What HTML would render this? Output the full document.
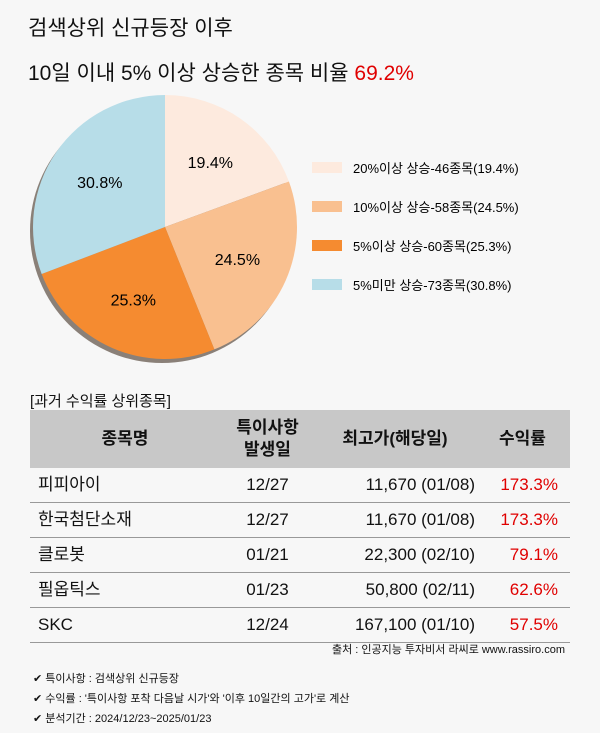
<!DOCTYPE html>
<html><head><meta charset="utf-8"><style>
body{margin:0;background:#f7f7f7;width:600px;height:733px;overflow:hidden;font-family:"Liberation Sans","Noto Sans CJK KR",sans-serif;color:#111;position:relative}
.a{position:absolute;white-space:nowrap}
table{position:absolute;left:30px;top:410px;width:540px;border-collapse:collapse;font-size:17px}
th{background:#c8c8c8;height:58px;padding:0;font-weight:bold;font-size:17px;line-height:22px}
td{height:34px;padding:0;line-height:20px;border-bottom:1px solid #999}
.r{color:#e00000;text-align:right;padding-right:12px}
.foot{font-size:11px}
</style></head><body>
<div class="a" style="left:28px;top:12px;font-size:21px">검색상위 신규등장 이후</div>
<div class="a" style="left:28px;top:57px;font-size:21px">10일 이내 5% 이상 상승한 종목 비율 <span style="color:#e00000">69.2%</span></div>
<svg class="a" style="left:0;top:0" width="600" height="400" id="pie"></svg>
<div class="a" style="left:30px;top:390px;font-size:15px">[과거 수익률 상위종목]</div>
<table>
<tr><th style="width:190px">종목명</th><th style="width:95px">특이사항<br>발생일</th><th style="width:160px">최고가(해당일)</th><th>수익률</th></tr>
<tr><td style="padding-left:8px">피피아이</td><td style="text-align:center">12/27</td><td style="text-align:right">11,670 (01/08)</td><td class="r">173.3%</td></tr>
<tr><td style="padding-left:8px">한국첨단소재</td><td style="text-align:center">12/27</td><td style="text-align:right">11,670 (01/08)</td><td class="r">173.3%</td></tr>
<tr><td style="padding-left:8px">클로봇</td><td style="text-align:center">01/21</td><td style="text-align:right">22,300 (02/10)</td><td class="r">79.1%</td></tr>
<tr><td style="padding-left:8px">필옵틱스</td><td style="text-align:center">01/23</td><td style="text-align:right">50,800 (02/11)</td><td class="r">62.6%</td></tr>
<tr><td style="padding-left:8px">SKC</td><td style="text-align:center">12/24</td><td style="text-align:right">167,100 (01/10)</td><td class="r">57.5%</td></tr>
</table>
<div class="a foot" style="right:35px;top:641px">출처 : 인공지능 투자비서 라씨로 www.rassiro.com</div>
<div class="a foot" style="left:33px;top:670px">✔ 특이사항 : 검색상위 신규등장</div>
<div class="a foot" style="left:33px;top:690px">✔ 수익률 : '특이사항 포착 다음날 시가'와 '이후 10일간의 고가'로 계산</div>
<div class="a foot" style="left:33px;top:710px">✔ 분석기간 : 2024/12/23~2025/01/23</div>
<script>
const labels=["20%이상 상승-46종목(19.4%)","10%이상 상승-58종목(24.5%)","5%이상 상승-60종목(25.3%)","5%미만 상승-73종목(30.8%)"];
const values=[19.4,24.5,25.3,30.8];
const colors=["#fdeade","#f9c090","#f58b30","#b7dde8"];
const svg=document.getElementById('pie');const NS="http://www.w3.org/2000/svg";
const cx=165,cy=227,R=132;
const total=values.reduce((a,b)=>a+b,0);
function pt(a,r){return [cx+r*Math.sin(a),cy-r*Math.cos(a)];}
const sh=document.createElementNS(NS,'circle');
sh.setAttribute('cx',cx-3);sh.setAttribute('cy',cy+4);sh.setAttribute('r',R);sh.setAttribute('fill','#8a8078');


svg.appendChild(sh);
let a0=0;
values.forEach((v,i)=>{
 const a1=a0+v/total*2*Math.PI;
 const p0=pt(a0,R),p1=pt(a1,R);
 const path=document.createElementNS(NS,'path');
 path.setAttribute('d',`M${cx},${cy}L${p0[0]},${p0[1]}A${R},${R} 0 ${a1-a0>Math.PI?1:0} 1 ${p1[0]},${p1[1]}Z`);
 path.setAttribute('fill',colors[i]);
 
 
 svg.appendChild(path);
 const m=(a0+a1)/2,lp=pt(m,R*0.6);
 const t=document.createElementNS(NS,'text');
 t.setAttribute('x',lp[0]);t.setAttribute('y',lp[1]+6);t.setAttribute('text-anchor','middle');t.setAttribute('font-size','16');
 t.textContent=v.toFixed(1)+'%';
 
 
 svg.appendChild(t);
 const r=document.createElementNS(NS,'rect');
 r.setAttribute('x',312);r.setAttribute('y',162+i*39);r.setAttribute('width',30);r.setAttribute('height',11);r.setAttribute('fill',colors[i]);
 
 
 svg.appendChild(r);
 const lt=document.createElementNS(NS,'text');
 lt.setAttribute('x',353);lt.setAttribute('y',173+i*39);lt.setAttribute('font-size','13');
 lt.textContent=labels[i];
 
 
 svg.appendChild(lt);
 a0=a1;
});
</script>
</body></html>
